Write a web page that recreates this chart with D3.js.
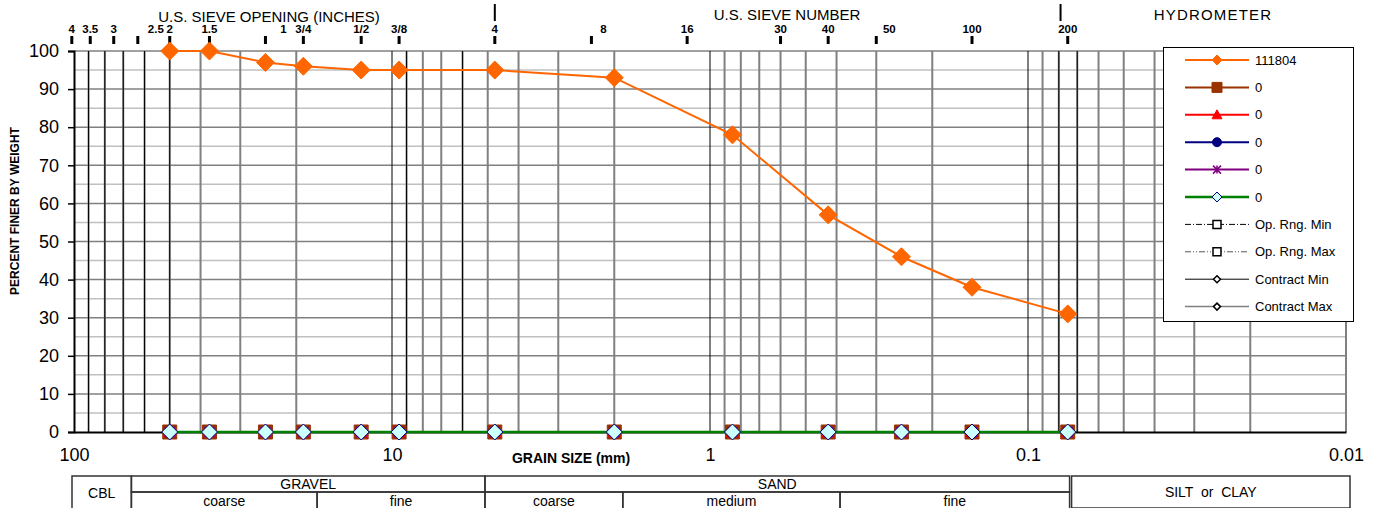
<!DOCTYPE html>
<html><head><meta charset="utf-8">
<script src="https://cdn.jsdelivr.net/npm/d3@7"></script>
<style>body{margin:0;background:#fff}svg{display:block;font-family:"Liberation Sans",Arial,sans-serif}</style>
</head><body><svg id="c" width="1377" height="508"></svg>
<script>
// ---- data ----
const grainSizes = [50, 37.5, 25, 19, 12.5, 9.5, 4.75, 2, 0.85, 0.425, 0.25, 0.15, 0.075];
const percentFiner = [100, 100, 97, 96, 95, 95, 95, 93, 78, 57, 46, 38, 31];
const zeroValues = [0, 0, 0, 0, 0, 0, 0, 0, 0, 0, 0, 0, 0];
const seriesNames = ["111804", "0", "0", "0", "0", "0", "Op. Rng. Min", "Op. Rng. Max", "Contract Min", "Contract Max"];
const inchLabels = ["4", "3.5", "3", "2.5", "2", "1.5", "1", "3/4", "1/2", "3/8"];
const inchSizes = [101.6, 88.9, 75, 63, 50, 37.5, 25, 19, 12.5, 9.5];
const sieveLabels = ["4", "8", "16", "30", "40", "50", "100", "200"];
const sieveSizes = [4.75, 2.36, 1.18, 0.6, 0.425, 0.3, 0.15, 0.075];
const xTickValues = [100, 10, 1, 0.1, 0.01];
const xTickLabels = ["100", "10", "1", "0.1", "0.01"];
const yTicks = [0, 10, 20, 30, 40, 50, 60, 70, 80, 90, 100];
const blackGridSizes = [90, 80, 70, 60, 50, 9, 6, 0.08, 0.07];
const classBounds = [66, 17.2, 5.1, 1.88, 0.39, 0.074];

const svg = d3.select("#c");
const x = d3.scaleLog().domain([100, 0.01]).range([74, 1346]);
const y = d3.scaleLinear().domain([0, 100]).range([432, 51]);

// ---- grid ----
const g = svg.append("g");
g.selectAll(".hm").data(d3.range(5, 100, 10)).join("line")
  .attr("x1", x(100)).attr("x2", x(0.01)).attr("y1", d => y(d)).attr("y2", d => y(d))
  .attr("stroke", "#c0c0c0").attr("stroke-width", 1.5);
g.selectAll(".hM").data(yTicks.filter(d => d > 0)).join("line")
  .attr("x1", x(100)).attr("x2", x(0.01)).attr("y1", d => y(d)).attr("y2", d => y(d))
  .attr("stroke", "#808080").attr("stroke-width", 1.5);
const minor = [];
[100, 10, 1, 0.1].forEach(dec => { for (let k = 2; k <= 9; k++) minor.push(dec / 10 * k); });
g.selectAll(".vm").data(minor).join("line")
  .attr("x1", d => x(d)).attr("x2", d => x(d)).attr("y1", y(100)).attr("y2", y(0))
  .attr("stroke", "#808080").attr("stroke-width", 2);
g.selectAll(".vb").data(blackGridSizes.concat([10, 1, 0.1])).join("line")
  .attr("x1", d => x(d)).attr("x2", d => x(d)).attr("y1", y(100)).attr("y2", y(0))
  .attr("stroke", "#000").attr("stroke-width", 1);
g.append("line").attr("x1", x(0.01)).attr("x2", x(0.01)).attr("y1", y(100)).attr("y2", y(0))
  .attr("stroke", "#808080").attr("stroke-width", 2);

// ---- axes ----
const yAxis = d3.axisLeft(y).tickValues(yTicks).tickSize(6).tickPadding(9);
const ya = svg.append("g").attr("transform", `translate(${x(100)},0)`).call(yAxis);
ya.select(".domain").attr("stroke", "#000").attr("stroke-width", 2);
ya.selectAll(".tick line").attr("stroke", "#000").attr("stroke-width", 1.5);
ya.selectAll("text").attr("font-size", 18).attr("font-family", "Liberation Sans, Arial, sans-serif").attr("fill", "#000");

const xAxis = d3.axisBottom(x).tickValues(xTickValues).tickFormat((d, i) => xTickLabels[i]).tickSize(0).tickPadding(16);
const xa = svg.append("g").attr("transform", `translate(0,${y(0)})`).call(xAxis);
xa.select(".domain").attr("stroke", "#000").attr("stroke-width", 2);
xa.selectAll("text").attr("font-size", 18).attr("font-family", "Liberation Sans, Arial, sans-serif").attr("fill", "#000");

svg.append("text").attr("x", 571).attr("y", 463).attr("text-anchor", "middle")
  .attr("font-size", 14).attr("font-weight", "bold").text("GRAIN SIZE (mm)");
svg.append("text").attr("transform", "translate(19,211) rotate(-90)").attr("text-anchor", "middle")
  .attr("font-size", 12).attr("font-weight", "bold").text("PERCENT FINER BY WEIGHT");

// ---- top sieve scale ----
const nudge = {"2.5": 18, "1": 18, "8": 12, "50": 13};
function topTicks(labels, sizes) {
  const t = svg.append("g");
  t.selectAll("rect").data(sizes).join("rect")
    .attr("x", d => x(d) - 1.5).attr("y", 36).attr("width", 3).attr("height", 8).attr("fill", "#000");
  t.selectAll("text").data(labels).join("text")
    .attr("x", (d, i) => x(sizes[i]) + (nudge[d] || 0))
    .attr("y", 33).attr("text-anchor", "middle").attr("font-size", 11.5).attr("font-weight", "bold").text(d => d);
}
topTicks(inchLabels, inchSizes);
topTicks(sieveLabels, sieveSizes);
svg.append("text").attr("x", 269).attr("y", 22).attr("text-anchor", "middle").attr("font-size", 15).text("U.S. SIEVE OPENING (INCHES)");
svg.append("text").attr("x", 787).attr("y", 20).attr("text-anchor", "middle").attr("font-size", 15).text("U.S. SIEVE NUMBER");
svg.append("text").attr("x", 1213).attr("y", 20).attr("text-anchor", "middle").attr("font-size", 15).attr("letter-spacing", 1.2).text("HYDROMETER");
[4.75, 0.079].forEach(d => svg.append("line").attr("x1", x(d)).attr("x2", x(d)).attr("y1", 4).attr("y2", 21).attr("stroke", "#000").attr("stroke-width", 2));

// ---- series ----
const line = d3.line().x(d => x(d[0])).y(d => y(d[1]));
const zeroPts = grainSizes.map((d, i) => [d, zeroValues[i]]);
const mainPts = grainSizes.map((d, i) => [d, percentFiner[i]]);

const shapes = {
  diamond: (s) => `M0,${-s}L${s},0L0,${s}L${-s},0Z`,
  square: (s) => `M${-s},${-s}H${s}V${s}H${-s}Z`,
  triangle: (s) => `M0,${-s}L${s},${s * 0.8}L${-s},${s * 0.8}Z`,
  star: (s) => `M${-s},${-s}L${s},${s}M${s},${-s}L${-s},${s}M0,${-s}V${s}`
};
const styles = [
  {c: "#FF6600", w: 2, m: "diamond", ms: 9, lm: 5, fill: "#FF6600", stroke: "#FF6600"},
  {c: "#993300", w: 2, m: "square", ms: 7, lm: 5, fill: "#993300", stroke: "#993300"},
  {c: "#FF0000", w: 2, m: "triangle", ms: 6, lm: 5, fill: "#FF0000", stroke: "#FF0000"},
  {c: "#000080", w: 2, m: "circle", ms: 5, lm: 4.5, fill: "#000080", stroke: "#000080"},
  {c: "#800080", w: 2, m: "star", ms: 5, lm: 4, fill: "none", stroke: "#800080"},
  {c: "#008000", w: 2.5, m: "diamond", ms: 8, lm: 5, fill: "#CCFFFF", stroke: "#000080"},
  {c: "#000", w: 1, dash: "6,2,1,2", m: "square", ms: 4, lm: 4, fill: "#fff", stroke: "#000", sw: 1.5},
  {c: "#555", w: 1, dash: "6,2,1,2,1,2", m: "square", ms: 4, lm: 4, fill: "#fff", stroke: "#000", sw: 1.5},
  {c: "#000", w: 1, m: "diamond", ms: 3.5, lm: 3.5, fill: "#fff", stroke: "#000", sw: 1.5},
  {c: "#808080", w: 1.5, m: "diamond", ms: 3.5, lm: 3.5, fill: "#fff", stroke: "#000", sw: 1.5}
];
function marker(sel, st, size) {
  if (st.m === "circle") {
    sel.append("circle").attr("r", size).attr("fill", st.fill).attr("stroke", st.stroke);
  } else {
    sel.append("path").attr("d", shapes[st.m](size)).attr("fill", st.fill)
      .attr("stroke", st.stroke).attr("stroke-width", st.sw || (st.m === "star" ? 1.5 : 1));
  }
}
const sg = svg.append("g");
for (let k = 1; k <= 5; k++) {
  const st = styles[k];
  sg.append("path").attr("d", line(zeroPts)).attr("fill", "none").attr("stroke", st.c).attr("stroke-width", st.w);
  sg.selectAll(null).data(zeroPts).join("g").attr("transform", d => `translate(${x(d[0])},${y(d[1])})`)
    .each(function () { marker(d3.select(this), st, st.ms); });
}
sg.append("path").attr("d", line(mainPts)).attr("fill", "none").attr("stroke", styles[0].c).attr("stroke-width", 2);
sg.selectAll(null).data(mainPts).join("g").attr("transform", d => `translate(${x(d[0])},${y(d[1])})`)
  .each(function () { marker(d3.select(this), styles[0], styles[0].ms); });

// ---- legend ----
const lg = svg.append("g").attr("transform", "translate(1163,47)");
lg.append("rect").attr("x", 0.5).attr("y", 0.5).attr("width", 190).attr("height", 274).attr("fill", "#fff").attr("stroke", "#000");
seriesNames.forEach((name, i) => {
  const st = styles[i];
  const yy = 13 + i * 27.4;
  const row = lg.append("g").attr("transform", `translate(0,${yy})`);
  row.append("line").attr("x1", 22).attr("x2", 86).attr("y1", 0).attr("y2", 0)
    .attr("stroke", st.c).attr("stroke-width", st.w).attr("stroke-dasharray", st.dash || null);
  const mg = row.append("g").attr("transform", "translate(54,0)");
  marker(mg, st, st.lm);
  row.append("text").attr("x", 92).attr("y", 4.5).attr("font-size", 13).text(name);
});

// ---- soil classification table ----
const tb = svg.append("g").attr("font-size", 14).attr("fill", "#000");
function box(x1, x2, y1, y2, label) {
  tb.append("rect").attr("x", x1).attr("y", y1).attr("width", x2 - x1).attr("height", y2 - y1)
    .attr("fill", "none").attr("stroke", "#333").attr("stroke-width", 1.5);
  tb.append("text").attr("x", (x1 + x2) / 2).attr("y", (y1 + y2) / 2 + 5).attr("text-anchor", "middle")
    .attr("xml:space", "preserve").style("white-space", "pre").text(label);
}
const b = classBounds.map(d => x(d));
box(x(100) - 2, b[0], 476, 510, "CBL");
box(b[0], b[2], 476, 492, "GRAVEL");
box(b[0], b[1], 492, 510, "coarse");
box(b[1], b[2], 492, 510, "fine");
box(b[2], b[5], 476, 492, "SAND");
box(b[2], b[3], 492, 510, "coarse");
box(b[3], b[4], 492, 510, "medium");
box(b[4], b[5], 492, 510, "fine");
box(b[5] + 2, x(0.01) + 4, 476, 508, "SILT  or  CLAY");
</script></body></html>
